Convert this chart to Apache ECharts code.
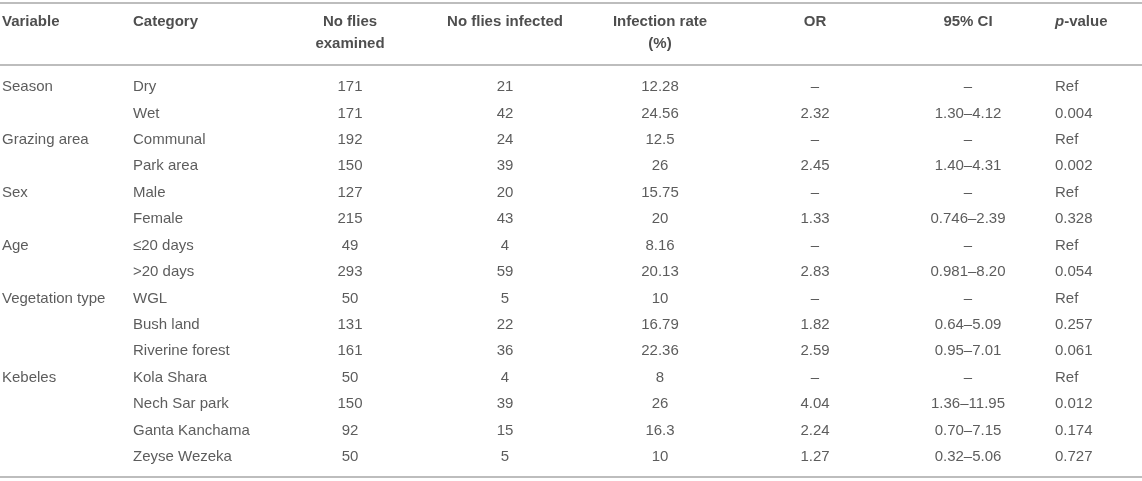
<!DOCTYPE html>
<html lang="en">

<head>
    <meta charset="UTF-8">
    <title>Tsetse infection table</title>
    <style>
        html, body { margin: 0; padding: 0; background: #fff; }
        #main { width: 1142px; height: 481px; }
    </style>
</head>

<body>
    <div id="main"></div>

    <script src="https://cdn.jsdelivr.net/npm/echarts@6/dist/echarts.min.js"></script>
    <script>
        // 表格数据
        var headers = ['Variable', 'Category', 'No flies\nexamined', 'No flies infected',
            'Infection rate\n(%)', 'OR', '95% CI', '{i|p}-value']
        var variables = ['Season', '', 'Grazing area', '', 'Sex', '', 'Age', '',
            'Vegetation type', '', '', 'Kebeles', '', '', '']
        var categories = ['Dry', 'Wet', 'Communal', 'Park area', 'Male', 'Female', '≤20 days', '>20 days',
            'WGL', 'Bush land', 'Riverine forest', 'Kola Shara', 'Nech Sar park', 'Ganta Kanchama', 'Zeyse Wezeka']
        var examined = [171, 171, 192, 150, 127, 215, 49, 293, 50, 131, 161, 50, 150, 92, 50]
        var infected = [21, 42, 24, 39, 20, 43, 4, 59, 5, 22, 36, 4, 39, 15, 5]
        var infectionRate = ['12.28', '24.56', '12.5', '26', '15.75', '20', '8.16', '20.13',
            '10', '16.79', '22.36', '8', '26', '16.3', '10']
        var oddsRatio = ['–', '2.32', '–', '2.45', '–', '1.33', '–', '2.83',
            '–', '1.82', '2.59', '–', '4.04', '2.24', '1.27']
        var ci95 = ['–', '1.30–4.12', '–', '1.40–4.31', '–', '0.746–2.39', '–', '0.981–8.20',
            '–', '0.64–5.09', '0.95–7.01', '–', '1.36–11.95', '0.70–7.15', '0.32–5.06']
        var pValue = ['Ref', '0.004', 'Ref', '0.002', 'Ref', '0.328', 'Ref', '0.054',
            'Ref', '0.257', '0.061', 'Ref', '0.012', '0.174', '0.727']

        // 版式：列锚点和对齐方式（x 轴单位 = 像素宽度，y 轴单位 = 行）
        var colX = [2, 133, 350, 505, 660, 815, 968, 1055]
        var colAlign = ['left', 'left', 'center', 'center', 'center', 'center', 'center', 'left']
        var headerRow = -2.8755   // 表头文字顶部
        var rules = [-3.19, -0.832, 14.756]

        var columns = [variables, categories, examined, infected, infectionRate, oddsRatio, ci95, pValue]
        var font = 'Liberation Sans, Arial, Helvetica, sans-serif'
        var fontSize = 15

        var series = []
        columns.forEach(function (col, c) {
            var data = []
            col.forEach(function (v, r) {
                if (v === '') return
                data.push({ name: String(v), value: [colX[c], r] })
            })
            series.push({
                type: 'scatter',
                symbolSize: 0,
                silent: true,
                data: data,
                label: {
                    show: true,
                    position: 'inside',
                    formatter: '{b}',
                    align: colAlign[c],
                    verticalAlign: 'middle',
                    fontFamily: font,
                    fontSize: fontSize,
                    color: '#333'
                }
            })
        })

        // 表头 + 横线
        series.push({
            type: 'scatter',
            symbolSize: 0,
            silent: true,
            data: headers.map(function (h, c) {
                return { name: h, value: [colX[c], headerRow], label: { align: colAlign[c] } }
            }),
            label: {
                show: true,
                position: 'inside',
                formatter: function (p) { return p.name },
                verticalAlign: 'top',
                fontFamily: font,
                fontSize: fontSize,
                fontWeight: 'bold',
                lineHeight: 22,
                color: '#222',
                rich: {
                    i: { fontStyle: 'italic', fontWeight: 'bold', fontFamily: font, fontSize: fontSize, color: '#222' }
                }
            },
            markLine: {
                silent: true,
                symbol: 'none',
                label: { show: false },
                lineStyle: { color: '#bdbdbd', width: 2, type: 'solid' },
                data: rules.map(function (y) { return { yAxis: y } })
            }
        })

        var myChart = echarts.init(document.getElementById('main'))
        myChart.setOption({
            animation: false,
            grid: { left: 0, right: 0, top: 0, bottom: 0 },
            xAxis: { type: 'value', min: 0, max: 1142, show: false },
            yAxis: { type: 'value', inverse: true, min: -3.2917, max: 14.907, show: false },
            series: series
        })
    </script>
</body>

</html>
